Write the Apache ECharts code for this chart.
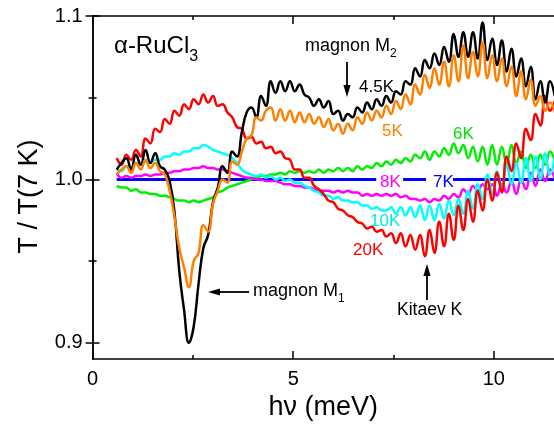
<!DOCTYPE html>
<html>
<head>
<meta charset="utf-8">
<script src="https://cdn.jsdelivr.net/npm/echarts@6/dist/echarts.min.js"></script>
<style>
html, body { margin: 0; padding: 0; background: #fff; }
#chart { width: 554px; height: 426px; }
</style>
</head>
<body>
<div id="chart"></div>
<script>
// photon energy (meV), shared by all temperature curves
var energy = [0.60,0.72,0.84,0.96,1.08,1.20,1.32,1.44,1.56,1.68,
	1.80,1.92,2.04,2.16,2.28,2.40,2.52,2.64,2.76,2.88,
	3.00,3.12,3.24,3.36,3.48,3.60,3.72,3.84,3.96,4.08,
	4.20,4.32,4.44,4.56,4.68,4.80,4.92,5.04,5.16,5.28,
	5.40,5.52,5.64,5.76,5.88,6.00,6.12,6.24,6.36,6.48,
	6.60,6.72,6.84,6.96,7.08,7.20,7.32,7.44,7.56,7.68,
	7.80,7.92,8.04,8.16,8.28,8.40,8.52,8.64,8.76,8.88,
	9.00,9.12,9.24,9.36,9.48,9.60,9.72,9.84,9.96,10.08,
	10.20,10.32,10.44,10.56,10.68,10.80,10.92,11.04,11.16,11.28,
	11.40,11.52];

// T / T(7 K)
var t45K = [1.006,1.010,1.013,1.006,1.015,1.009,1.018,1.010,1.016,1.008,
	1.006,0.999,0.980,0.944,0.920,0.900,0.910,0.936,0.958,0.966,
	0.986,0.995,1.008,1.004,1.017,1.014,1.029,1.041,1.044,1.038,
	1.051,1.045,1.060,1.053,1.060,1.054,1.060,1.054,1.058,1.052,
	1.050,1.045,1.049,1.044,1.048,1.040,1.042,1.036,1.040,1.038,
	1.044,1.041,1.047,1.043,1.049,1.045,1.051,1.047,1.054,1.052,
	1.060,1.058,1.068,1.063,1.073,1.068,1.077,1.070,1.081,1.072,
	1.089,1.075,1.090,1.075,1.090,1.074,1.096,1.073,1.086,1.070,
	1.085,1.066,1.080,1.063,1.074,1.057,1.069,1.049,1.060,1.047,
	1.060,1.051];

var t5K = [1.003,1.006,1.008,1.004,1.010,1.006,1.012,1.007,1.010,1.005,
	1.003,0.993,0.977,0.958,0.946,0.934,0.950,0.955,0.972,0.968,
	0.985,0.993,1.000,0.998,1.011,1.009,1.017,1.025,1.027,1.038,
	1.036,1.042,1.044,1.036,1.043,1.036,1.042,1.035,1.041,1.035,
	1.040,1.034,1.038,1.032,1.037,1.030,1.034,1.028,1.034,1.030,
	1.038,1.034,1.041,1.036,1.042,1.038,1.045,1.040,1.048,1.043,
	1.052,1.046,1.058,1.052,1.064,1.056,1.068,1.058,1.072,1.057,
	1.076,1.060,1.082,1.062,1.078,1.063,1.084,1.062,1.076,1.060,
	1.074,1.057,1.069,1.051,1.066,1.049,1.061,1.045,1.051,1.042,
	1.047,1.041];

var t6K = [0.996,0.995,0.995,0.993,0.994,0.992,0.992,0.991,0.991,0.990,
	0.990,0.989,0.988,0.987,0.987,0.986,0.987,0.986,0.987,0.988,
	0.989,0.992,0.993,0.995,0.996,0.997,0.998,0.999,1.000,1.001,
	1.002,1.002,1.003,1.003,1.004,1.003,1.005,1.004,1.005,1.004,
	1.005,1.004,1.006,1.004,1.006,1.005,1.007,1.005,1.007,1.005,
	1.008,1.006,1.008,1.007,1.010,1.008,1.011,1.009,1.012,1.010,
	1.013,1.011,1.015,1.013,1.017,1.012,1.017,1.014,1.019,1.015,
	1.022,1.016,1.021,1.013,1.020,1.011,1.020,1.009,1.021,1.009,
	1.020,1.009,1.021,1.010,1.017,1.007,1.015,1.007,1.015,1.009,
	1.017,1.011];

var t8K = [1.004,1.001,1.002,1.001,1.002,1.002,1.003,1.002,1.003,1.003,
	1.004,1.004,1.005,1.005,1.006,1.006,1.007,1.007,1.008,1.007,
	1.007,1.006,1.006,1.005,1.004,1.003,1.002,1.001,1.001,1.000,
	1.000,0.999,0.999,0.999,0.998,0.997,0.997,0.996,0.996,0.995,
	0.995,0.994,0.993,0.993,0.993,0.992,0.993,0.992,0.993,0.992,
	0.992,0.990,0.991,0.990,0.991,0.990,0.991,0.990,0.991,0.989,
	0.990,0.988,0.988,0.987,0.988,0.986,0.988,0.987,0.990,0.988,
	0.991,0.989,0.994,0.991,0.996,0.993,0.997,0.994,0.997,0.990,
	0.997,0.992,0.999,0.991,1.000,0.994,1.004,0.996,1.006,0.999,
	1.006,1.000];

var t10K = [1.006,1.005,1.008,1.007,1.010,1.009,1.011,1.010,1.012,1.012,
	1.014,1.014,1.016,1.015,1.017,1.017,1.019,1.019,1.021,1.020,
	1.018,1.017,1.016,1.015,1.013,1.010,1.006,1.004,1.003,1.002,
	1.003,1.001,1.002,1.000,1.001,0.999,1.000,0.998,0.998,0.996,
	0.995,0.993,0.992,0.990,0.990,0.988,0.989,0.987,0.987,0.986,
	0.986,0.984,0.984,0.982,0.983,0.981,0.981,0.983,0.979,0.983,
	0.978,0.983,0.977,0.984,0.975,0.984,0.975,0.985,0.976,0.987,
	0.978,0.988,0.979,0.993,0.982,0.997,0.988,1.003,0.991,1.005,
	0.995,1.009,0.997,1.010,0.998,1.013,0.999,1.014,1.000,1.016,
	1.003,1.014];

var t20K = [1.013,1.009,1.015,1.012,1.018,1.014,1.025,1.022,1.031,1.029,
	1.037,1.034,1.042,1.039,1.046,1.043,1.049,1.046,1.052,1.047,
	1.051,1.045,1.046,1.041,1.038,1.032,1.031,1.025,1.026,1.022,
	1.023,1.019,1.020,1.016,1.017,1.013,1.012,1.006,1.006,1.001,
	1.001,0.996,0.994,0.991,0.987,0.986,0.982,0.981,0.978,0.977,
	0.974,0.973,0.970,0.971,0.968,0.969,0.965,0.967,0.961,0.967,
	0.959,0.966,0.957,0.966,0.953,0.969,0.955,0.974,0.959,0.979,
	0.963,0.984,0.969,0.988,0.974,0.993,0.981,1.000,0.987,1.004,
	0.992,1.014,1.005,1.022,1.013,1.031,1.024,1.040,1.033,1.051,
	1.042,1.048];

// 7 K reference line, broken where the 8K / 7K labels sit
var t7KX = [0.60, 7.07, 7.40, 7.74, 8.31, 8.65, 8.98, 11.52];
var t7KY = [1, 1, null, 1, 1, null, 1, 1];

var xMajor = [0, 5, 10];
var xMinor = [2.5, 7.5];
var yMajor = [0.9, 1.0, 1.1];
var yMinor = [0.95, 1.05];

var FONT = 'Liberation Sans, Arial, sans-serif';

function pairs(xs, ys) {
	return xs.map(function(x, i) {
		return [x, ys[i] === null ? '-' : ys[i]];
	});
}

function xAx(pos, ticks, len, withLine, withLabel) {
	var ax = {
		type : 'value',
		position : pos,
		min : 0,
		max : 11.5,
		splitLine : { show : false },
		axisLine : { show : withLine, lineStyle : { color : '#000', width : 1.5 } },
		axisTick : { inside : true, length : len, customValues : ticks, lineStyle : { color : '#000', width : 1.5 } },
		axisLabel : { show : withLabel, customValues : ticks, margin : 10, color : '#000', fontSize : 20, fontFamily : FONT }
	};
	return ax;
}

function yAx(pos, ticks, len, withLine, withLabel) {
	return {
		type : 'value',
		position : pos,
		min : 0.89,
		max : 1.1,
		splitLine : { show : false },
		axisLine : { show : withLine, lineStyle : { color : '#000', width : 1.5 } },
		axisTick : { inside : true, length : len, customValues : ticks, lineStyle : { color : '#000', width : 1.5 } },
		axisLabel : {
			show : withLabel,
			customValues : ticks,
			margin : 10,
			color : '#000',
			fontSize : 20,
			fontFamily : FONT,
			formatter : function(v) { return v.toFixed(1); }
		}
	};
}

function curve(name, ys, color, width) {
	return {
		name : name,
		type : 'line',
		data : pairs(energy, ys),
		showSymbol : false,
		symbol : 'none',
		smooth : 0.45,
		silent : true,
		lineStyle : { color : color, width : width || 2.5 },
		itemStyle : { color : color }
	};
}

function label(text, x, y, color, size) {
	return {
		type : 'text', x : x, y : y, z : 100,
		style : { text : text, fill : color, font : size + 'px ' + FONT, textAlign : 'left', textVerticalAlign : 'middle' }
	};
}

// text with a subscript, e.g. magnon M2
function subLabel(main, sub, x, y, size, subSize, drop) {
	return {
		type : 'text', x : x, y : y, z : 100,
		style : {
			text : '{a|' + main + '}{s|' + sub + '}',
			textAlign : 'left',
			textVerticalAlign : 'top',
			rich : {
				a : { fontSize : size, fontFamily : FONT, fill : '#000', verticalAlign : 'top' },
				s : { fontSize : subSize, fontFamily : FONT, fill : '#000', verticalAlign : 'top', padding : [drop, 0, 0, 0] }
			}
		}
	};
}

function arrow(x1, y1, x2, y2) {
	// head at (x2, y2)
	var dx = x2 - x1, dy = y2 - y1;
	var L = Math.sqrt(dx * dx + dy * dy);
	var ux = dx / L, uy = dy / L;
	var hl = 12, hw = 3.6;
	var bx = x2 - ux * hl, by = y2 - uy * hl;
	return [ {
		type : 'line', z : 100,
		shape : { x1 : x1, y1 : y1, x2 : bx + ux * 2, y2 : by + uy * 2 },
		style : { stroke : '#000', lineWidth : 1.8 }
	}, {
		type : 'polygon', z : 100,
		shape : { points : [ [ x2, y2 ], [ bx - uy * hw, by + ux * hw ], [ bx + uy * hw, by - ux * hw ] ] },
		style : { fill : '#000' }
	} ];
}

var elements = [
	subLabel('\u03b1-RuCl', '3', 114, 34, 24, 16, 15),
	subLabel('magnon M', '2', 305, 37, 18, 12, 11),
	subLabel('magnon M', '1', 253, 282, 18, 12, 11),
	label('4.5K', 359, 87, '#000', 17),
	label('5K', 382, 131, '#ff7f00', 17),
	label('6K', 453, 134, '#00e000', 17),
	label('8K', 380, 182, '#ff00ff', 17),
	label('7K', 433, 182, '#0000ff', 17),
	label('10K', 370, 221, '#00e8e8', 17),
	label('20K', 353, 250, '#ff0000', 17),
	label('Kitaev K', 397, 310, '#000', 17.5)
].concat(arrow(347, 62, 347, 97), arrow(249, 292, 208, 292), arrow(427, 300, 427, 264));

var chart = echarts.init(document.getElementById('chart'), null, { renderer : 'canvas' });

var option = {
	animation : false,
	backgroundColor : '#fff',
	grid : { left : 92.6, top : 16, width : 464, height : 346.3, containLabel : false },
	xAxis : [
		(function() {
			var a = xAx('bottom', xMajor, 8, true, true);
			a.name = 'h\u03bd (meV)';
			a.nameLocation = 'middle';
			a.nameGap = 31;
			a.nameTextStyle = { fontSize : 27, fontFamily : FONT, color : '#000' };
			return a;
		})(),
		xAx('bottom', xMinor, 4, false, false),
		xAx('top', xMajor, 8, true, false),
		xAx('top', xMinor, 4, false, false)
	],
	yAxis : [
		(function() {
			var a = yAx('left', yMajor, 7, true, true);
			a.name = 'T / T(7 K)';
			a.nameLocation = 'middle';
			a.nameGap = 50;
			a.nameTextStyle = { fontSize : 27, fontFamily : FONT, color : '#000', padding : [ 0, 18, 0, 0 ] };
			return a;
		})(),
		yAx('left', yMinor, 4, false, false),
		yAx('right', yMajor, 7, true, false),
		yAx('right', yMinor, 4, false, false)
	],
	series : [
		{
			name : '7K', type : 'line', data : pairs(t7KX, t7KY), showSymbol : false, symbol : 'none',
			connectNulls : false, silent : true,
			lineStyle : { color : '#0000ff', width : 3 }, itemStyle : { color : '#0000ff' }
		},
		curve('6K', t6K, '#00ee00'),
		curve('8K', t8K, '#ff00ff'),
		curve('10K', t10K, '#00ffff'),
		curve('20K', t20K, '#ff0000'),
		curve('4.5K', t45K, '#000000'),
		curve('5K', t5K, '#ff8000')
	],
	graphic : { elements : elements }
};

chart.setOption(option);
</script>
</body>
</html>
